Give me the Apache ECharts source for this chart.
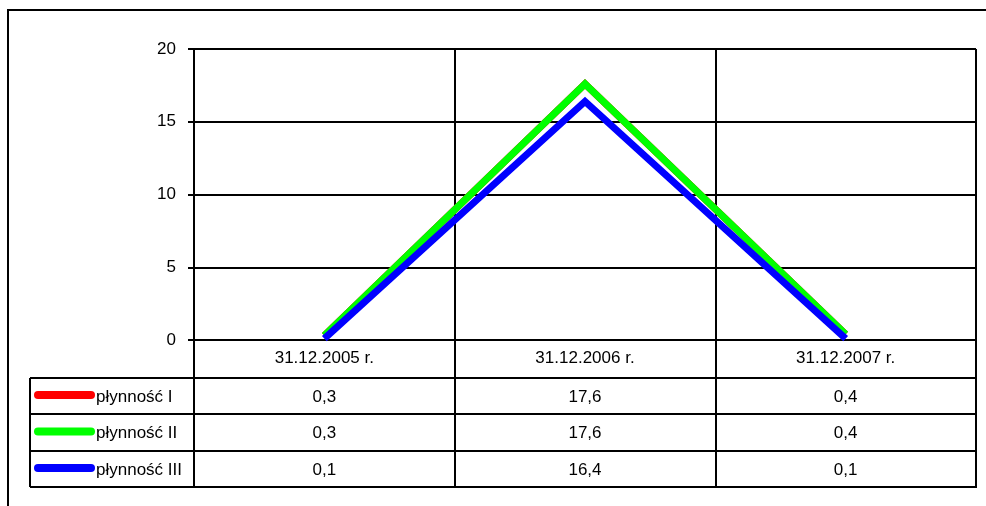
<!DOCTYPE html>
<html><head><meta charset="utf-8">
<script src="https://cdn.jsdelivr.net/npm/echarts@6/dist/echarts.min.js"></script>
<style>html,body{margin:0;padding:0;background:#fff}#c{width:986px;height:506px}</style>
</head><body><div id="c"></div>
<script>
const categories = ['31.12.2005 r.', '31.12.2006 r.', '31.12.2007 r.'];
const seriesNames = ['płynność I', 'płynność II', 'płynność III'];
const plynnoscI = [0.3, 17.6, 0.4];
const plynnoscII = [0.3, 17.6, 0.4];
const plynnoscIII = [0.1, 16.4, 0.1];
const colors = ['#ff0000', '#00ff00', '#0000ff'];
const yTicks = [0, 5, 10, 15, 20];

const FONT = 'Liberation Sans, Arial, sans-serif';
const FS = 17;
const seriesData = [plynnoscI, plynnoscII, plynnoscIII];
const chart = echarts.init(document.getElementById('c'), null, {renderer: 'canvas'});
const G = {left: 194, top: 49, right: 10, bottom: 166};
const tableBottom = 487;
const rowLines = [378, 414, 451, 487];

const option = {
  animation: false,
  backgroundColor: '#fff',
  grid: {left: G.left, top: G.top, right: G.right, bottom: G.bottom, containLabel: false},
  xAxis: {
    type: 'category', data: categories, boundaryGap: true,
    axisLine: {show: true, lineStyle: {color: '#000', width: 2}},
    axisTick: {show: true, inside: false, length: tableBottom - 340, lineStyle: {color: '#000', width: 2}},
    axisLabel: {color: '#000', fontSize: FS, fontFamily: FONT, margin: 10},
    splitLine: {show: true, lineStyle: {color: '#000', width: 2}}
  },
  yAxis: {
    type: 'value', min: yTicks[0], max: yTicks[yTicks.length - 1], interval: 5,
    axisLine: {show: true, lineStyle: {color: '#000', width: 2}},
    axisTick: {show: true, length: 6, lineStyle: {color: '#000', width: 2}},
    axisLabel: {color: '#000', fontSize: FS, fontFamily: FONT, margin: 18},
    splitLine: {show: true, lineStyle: {color: '#000', width: 2}}
  },
  series: seriesNames.map((n, i) => ({
    name: n, type: 'line', data: seriesData[i], showSymbol: false, symbol: 'none',
    lineStyle: {color: colors[i], width: 7, join: 'miter'}, z: 2 + i
  }))
};
chart.setOption(option);

const g = [];
// outer border
g.push({type: 'rect', shape: {x: 8, y: 10, width: 1100, height: 600}, style: {fill: null, stroke: '#000', lineWidth: 2}, silent: true});
// table horizontal lines
rowLines.forEach(y => g.push({type: 'line', shape: {x1: 30, y1: y, x2: 977, y2: y}, style: {stroke: '#000', lineWidth: 2}}));
// table left border
g.push({type: 'line', shape: {x1: 30, y1: rowLines[0], x2: 30, y2: rowLines[3]}, style: {stroke: '#000', lineWidth: 2}});
// rows
seriesNames.forEach((n, i) => {
  const yc = (rowLines[i] + rowLines[i + 1]) / 2;
  g.push({type: 'line', shape: {x1: 38, y1: yc - 1, x2: 91, y2: yc - 1}, style: {stroke: colors[i], lineWidth: 8, lineCap: 'round'}});
  g.push({type: 'text', x: 96, y: yc + 1, style: {text: n, fill: '#000', font: FS + 'px ' + FONT, textVerticalAlign: 'middle', textAlign: 'left'}});
  seriesData[i].forEach((v, j) => {
    const px = chart.convertToPixel({gridIndex: 0}, [j, 0])[0];
    g.push({type: 'text', x: px, y: yc + 1, style: {text: String(v).replace('.', ','), fill: '#000', font: FS + 'px ' + FONT, textVerticalAlign: 'middle', textAlign: 'center'}});
  });
});
chart.setOption({graphic: {elements: g}});
</script></body></html>
